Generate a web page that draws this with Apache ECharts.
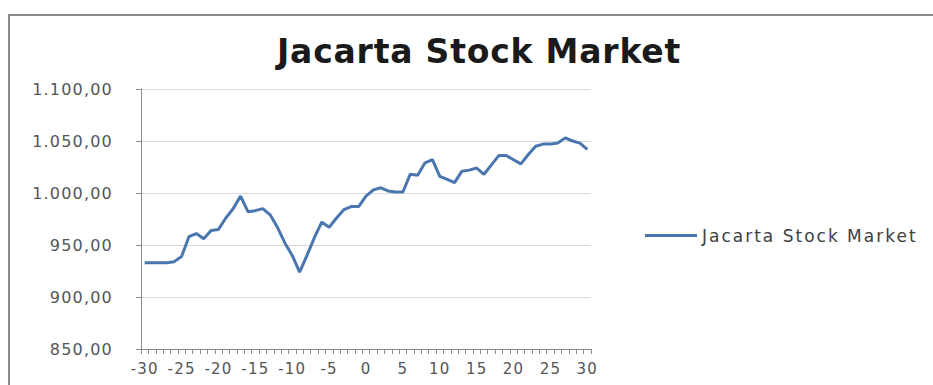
<!DOCTYPE html>
<html>
<head>
<meta charset="utf-8">
<script src="https://cdn.jsdelivr.net/npm/echarts@6/dist/echarts.min.js"></script>
<style>
  html, body { margin: 0; padding: 0; background: #ffffff; }
  #chart { width: 933px; height: 385px; }
  /* slightly wider lettering for all chart text */
  #chart text { letter-spacing: 1.2px; }
  #chart text[style*="17px"] { letter-spacing: 2px; }
  #chart text[style*="33px"] { letter-spacing: 0.8px; }
</style>
</head>
<body>
<div id="chart"></div>
<script>
// Index closing level by day offset (-30 .. 30)
const days = [
  -30, -29, -28, -27, -26, -25, -24, -23, -22, -21,
  -20, -19, -18, -17, -16, -15, -14, -13, -12, -11,
  -10, -9, -8, -7, -6, -5, -4, -3, -2, -1,
  0, 1, 2, 3, 4, 5, 6, 7, 8, 9,
  10, 11, 12, 13, 14, 15, 16, 17, 18, 19,
  20, 21, 22, 23, 24, 25, 26, 27, 28, 29, 30
];
const jakartaIndex = [
  933, 933, 933, 933, 934, 939, 958, 961, 956, 964,
  965, 976, 985, 997, 982, 983, 985, 979, 967, 952,
  940, 924, 940, 957, 972, 967, 976, 984, 987, 987,
  997, 1003, 1005, 1002, 1001, 1001, 1018, 1017, 1029, 1032,
  1016, 1013, 1010, 1021, 1022, 1024, 1018, 1027, 1036, 1036,
  1032, 1028, 1037, 1045, 1047, 1047, 1048, 1053, 1050, 1048, 1042
];
const seriesName = 'Jacarta Stock Market';
const chartTitle = 'Jacarta Stock Market';
const yMin = 850, yMax = 1100, yStep = 50;

// 1.100,00 style number formatting
function fmt(v) {
  const parts = v.toFixed(2).split('.');
  const intPart = parts[0].replace(/\B(?=(\d{3})+(?!\d))/g, '.');
  return intPart + ',' + parts[1];
}

const chart = echarts.init(document.getElementById('chart'), null, { renderer: 'svg' });
const font = 'DejaVu Sans';
const lineColor = '#4a76b0';

chart.setOption({
  backgroundColor: '#ffffff',
  animation: false,
  graphic: [{
    type: 'rect',
    shape: { x: 9, y: 15, width: 960, height: 420 },
    style: { fill: 'transparent', stroke: '#8a8a8a', lineWidth: 2 },
    z: -1
  }],
  title: {
    text: chartTitle,
    left: 474,
    textAlign: 'center',
    top: 30,
    textStyle: { fontFamily: font, fontSize: 33, fontWeight: 'bold', color: '#1a1a1a' }
  },
  legend: {
    left: 640,
    top: 222,
    icon: 'rect',
    itemWidth: 52,
    itemHeight: 3,
    itemGap: 5,
    textStyle: { fontFamily: font, fontSize: 17, color: '#404040' },
    data: [seriesName]
  },
  grid: { left: 141, right: 342, top: 89, bottom: 36 },
  xAxis: {
    type: 'category',
    data: days.map(String),
    boundaryGap: true,
    axisLine: { lineStyle: { color: '#8c8c8c', width: 1 } },
    axisTick: { show: true, interval: 0, length: 5, lineStyle: { color: '#8c8c8c' } },
    axisLabel: {
      interval: 4,
      margin: 12,
      fontFamily: font,
      fontSize: 15,
      color: '#555555'
    },
    splitLine: { show: false }
  },
  yAxis: {
    type: 'value',
    min: yMin,
    max: yMax,
    interval: yStep,
    axisLine: { show: true, lineStyle: { color: '#8c8c8c', width: 1 } },
    axisTick: { show: true, length: 5, lineStyle: { color: '#8c8c8c' } },
    axisLabel: {
      margin: 28,
      fontFamily: font,
      fontSize: 16,
      color: '#555555',
      formatter: fmt
    },
    splitLine: { lineStyle: { color: '#d9d9d9', width: 1 } }
  },
  series: [{
    name: seriesName,
    type: 'line',
    data: jakartaIndex,
    symbol: 'none',
    lineStyle: { color: lineColor, width: 3 },
    itemStyle: { color: lineColor }
  }]
});
</script>
</body>
</html>
